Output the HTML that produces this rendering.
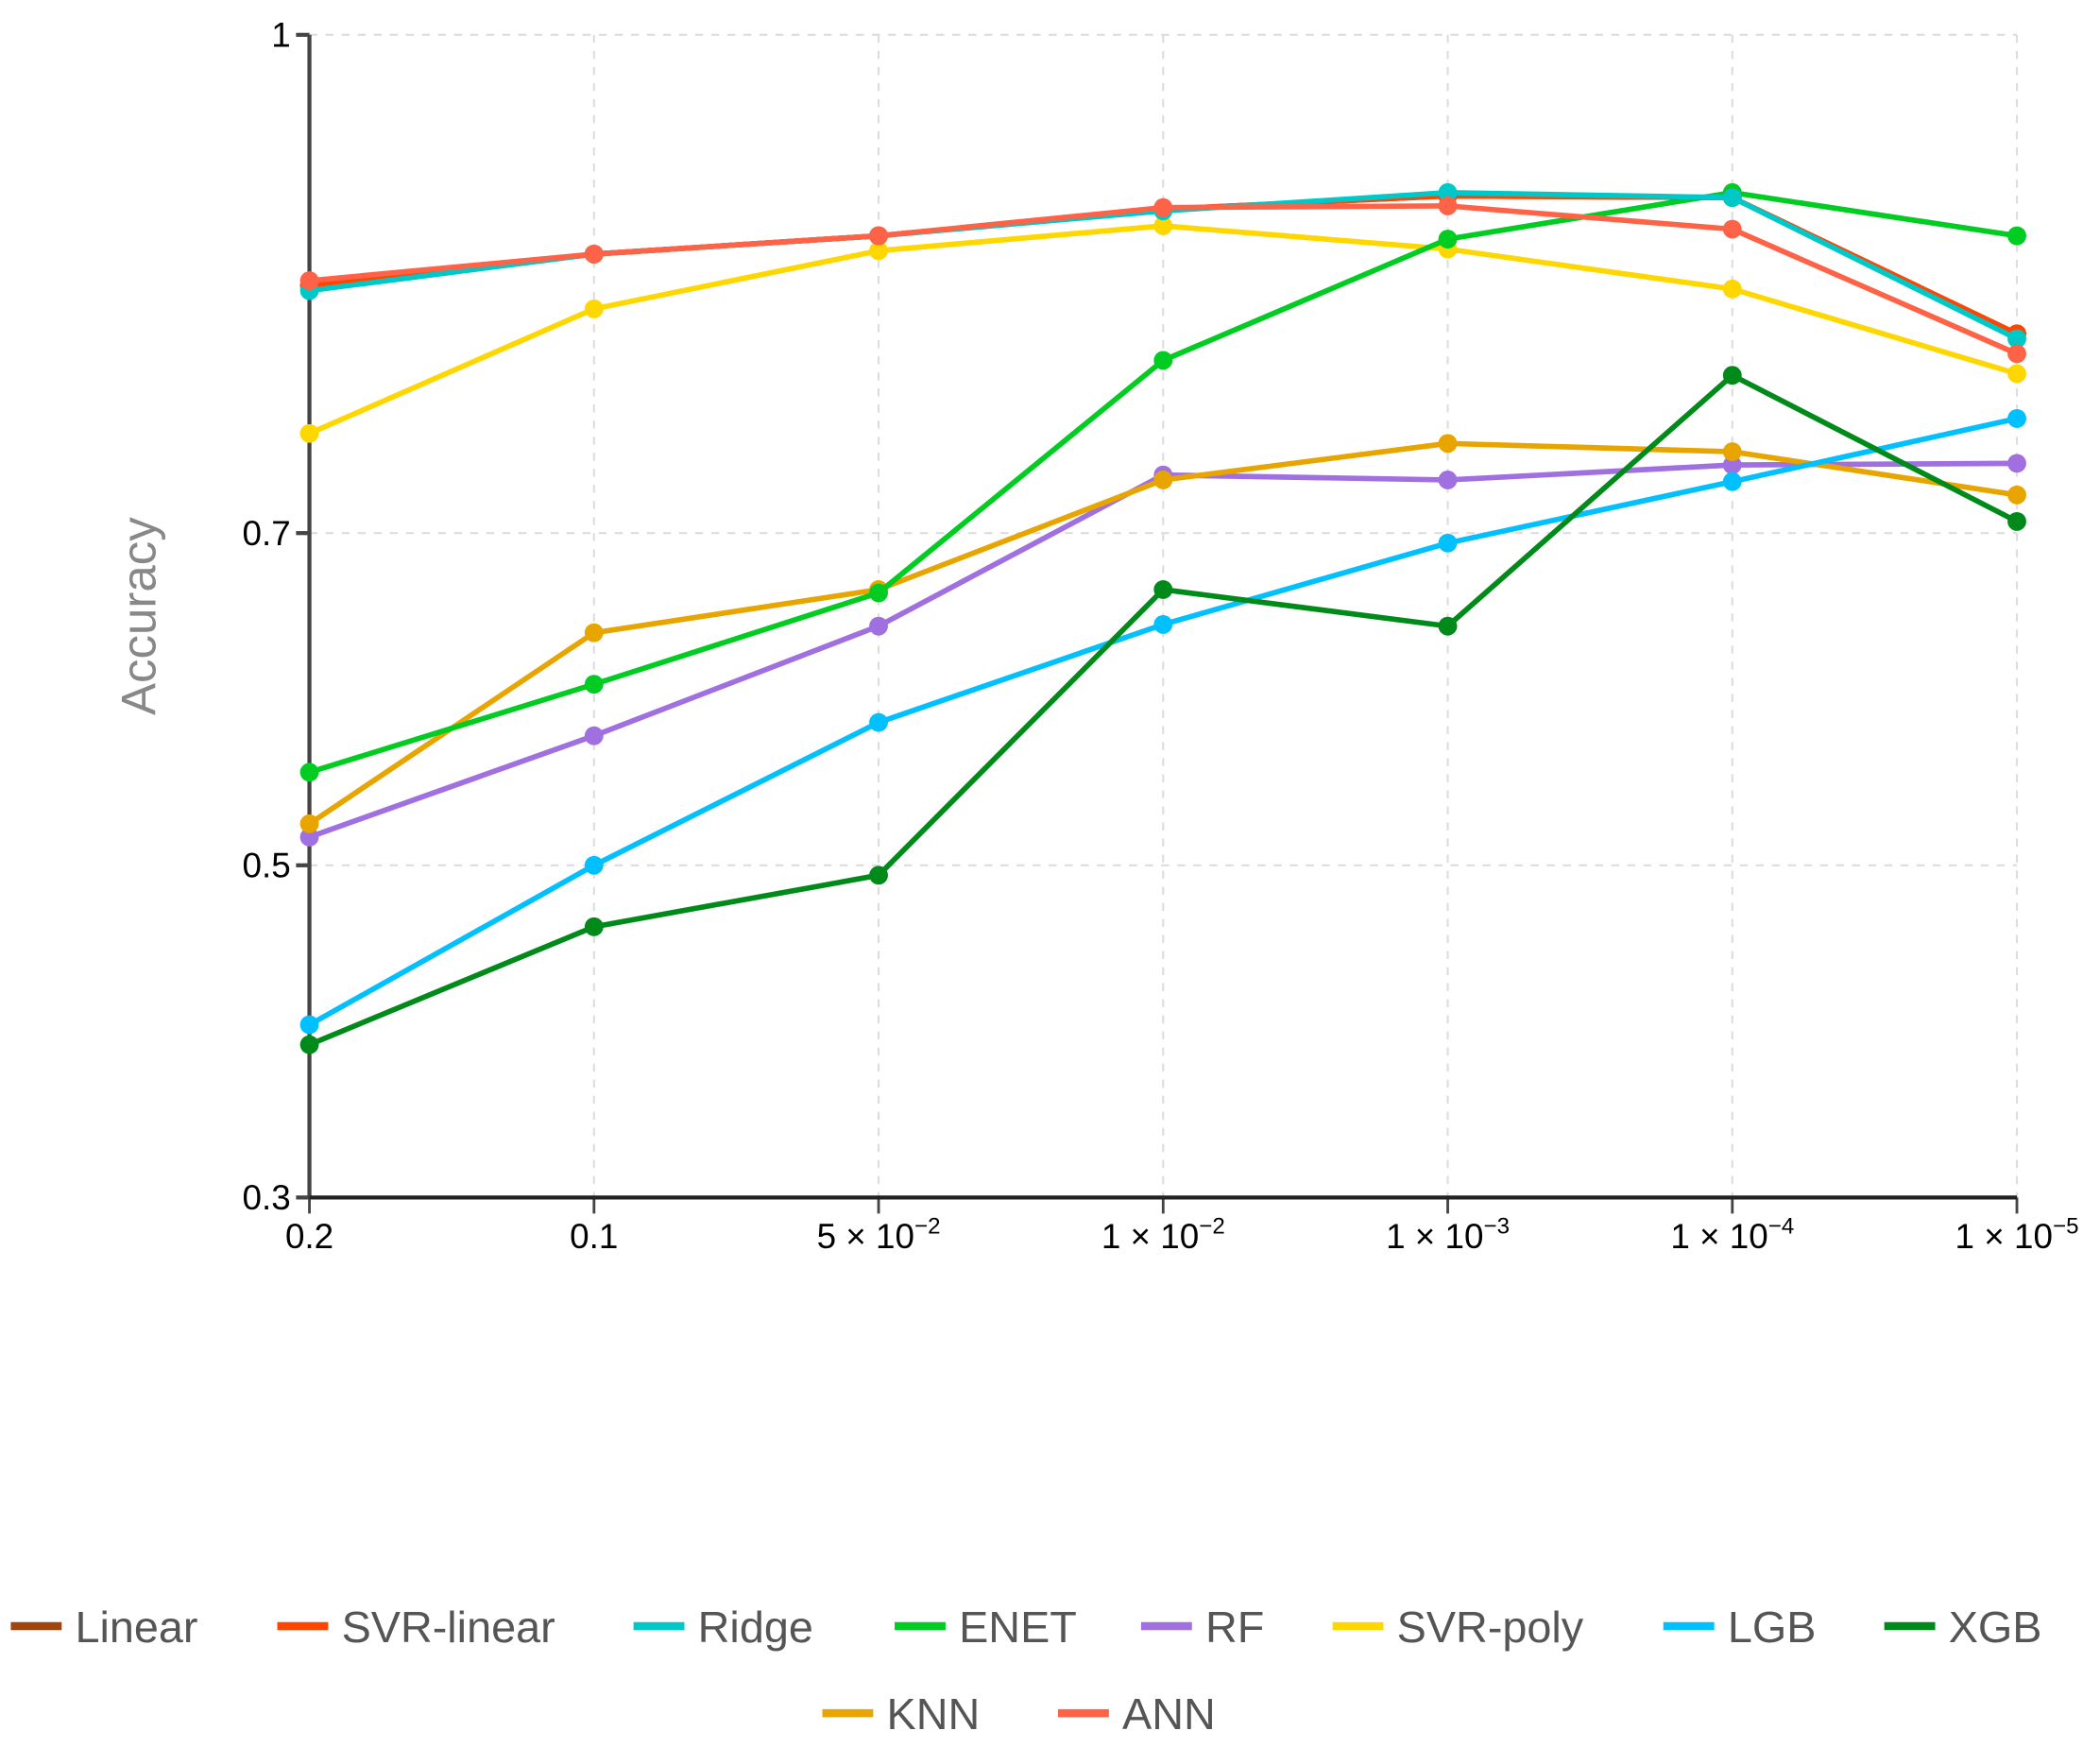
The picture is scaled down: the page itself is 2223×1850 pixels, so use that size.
<!DOCTYPE html>
<html><head><meta charset="utf-8"><style>html,body{margin:0;padding:0;background:#fff}svg{display:block}</style></head>
<body>
<svg id="chart" width="2223" height="1850" viewBox="0 0 1568 1305" xmlns="http://www.w3.org/2000/svg" font-family="'Liberation Sans', sans-serif">
<g id="grid"></g>
<g id="axes"></g>
<g id="series"></g>
<g id="legend"></g>
<text transform="translate(116,460) rotate(-90)" text-anchor="middle" font-size="36" fill="#888">Accuracy</text>
</svg>
<script>
const categories = ["0.2","0.1","5 × 10|−2","1 × 10|−2","1 × 10|−3","1 × 10|−4","1 × 10|−5"];
const yTicks = [0.3,0.5,0.7,1];
const names = ["Linear","SVR-linear","Ridge","ENET","RF","SVR-poly","LGB","XGB","KNN","ANN"];
const colors = ["#a0450f","#ff4500","#00c8c8","#00cc22","#a070e0","#ffd700","#00c0ff","#008a1a","#e8a500","#ff6347"];
const linear   = [0.849,0.868,0.879,0.895,0.903,0.902,0.820];
const svrLinear= [0.849,0.868,0.879,0.895,0.903,0.902,0.820];
const ridge    = [0.846,0.868,0.879,0.894,0.905,0.902,0.817];
const enet     = [0.556,0.609,0.664,0.804,0.877,0.905,0.879];
const rf       = [0.517,0.578,0.644,0.735,0.732,0.741,0.742];
const svrPoly  = [0.760,0.835,0.870,0.885,0.871,0.847,0.796];
const lgb      = [0.404,0.500,0.586,0.645,0.694,0.731,0.769];
const xgb      = [0.392,0.463,0.494,0.666,0.644,0.795,0.707];
const knn      = [0.525,0.640,0.666,0.732,0.754,0.749,0.723];
const ann      = [0.852,0.868,0.879,0.896,0.897,0.883,0.808];
const seriesData = [linear,svrLinear,ridge,enet,rf,svrPoly,lgb,xgb,knn,ann];
const drawOrder = [4,8,6,7,5,3,0,1,2,9];

const NS="http://www.w3.org/2000/svg";
const X0=231,X1=1506,Y0=894,Y1=26;
const xs=i=>X0+(X1-X0)*i/(categories.length-1);
const ys=v=>Y0-(v-0.3)/(1-0.3)*(Y0-Y1);
function mk(tag,attrs,parent){const e=document.createElementNS(NS,tag);for(const k in attrs)e.setAttribute(k,attrs[k]);parent.appendChild(e);return e;}
const grid=document.getElementById('grid'),axes=document.getElementById('axes'),ser=document.getElementById('series'),leg=document.getElementById('legend');

yTicks.forEach(t=>{
  const y=ys(t);
  if(t>0.3){const g=mk('line',{x1:X0,x2:X1,y1:y,y2:y,stroke:'#ddd','stroke-width':1.5,'stroke-dasharray':'6,6'},grid);
  
  }
  const tk=mk('line',{x1:X0-10,x2:X0,y1:y,y2:y,stroke:'#444','stroke-width':3},axes);
  
  
  const lb=mk('text',{x:X0-14,y:y+9,'text-anchor':'end','font-size':26,fill:'#000'},axes);
  
  
  lb.textContent=String(t);
});
categories.forEach((c,i)=>{
  const x=xs(i);
  if(i>0){const g=mk('line',{x1:x,x2:x,y1:Y1,y2:Y0,stroke:'#ddd','stroke-width':1.5,'stroke-dasharray':'6,6'},grid);
  
  }
  const tk=mk('line',{x1:x,x2:x,y1:Y0,y2:Y0+12,stroke:'#444','stroke-width':2},axes);
  
  
  const lb=mk('text',{x:x,y:Y0+38,'text-anchor':'middle','font-size':26,fill:'#000'},axes);
  
  
  const parts=c.split('|');
  lb.textContent=parts[0];
  if(parts[1]){const s=mk('tspan',{'font-size':17,dy:-11},lb);s.textContent=parts[1];}
});
const ya=mk('line',{x1:X0,x2:X0,y1:Y1,y2:Y0,stroke:'#444','stroke-width':3},axes);


const xa=mk('line',{x1:X0,x2:X1,y1:Y0,y2:Y0,stroke:'#222','stroke-width':3},axes);



drawOrder.forEach(si=>{
  const d=seriesData[si];
  const g=mk('g',{},ser);
  
  
  const pl=mk('polyline',{points:d.map((v,i)=>xs(i)+','+ys(v)).join(' '),fill:'none',stroke:colors[si],'stroke-width':4,'stroke-linejoin':'round'},g);
  
  
  d.forEach((v,i)=>{
    const c=mk('circle',{cx:xs(i),cy:ys(v),r:7,fill:colors[si]},g);
    
    
  });
});

const legPos=[[8,1214],[207,1214],[473,1214],[668,1214],[852,1214],[995,1214],[1242,1214],[1407,1214],[614,1279],[790,1279]];
names.forEach((n,i)=>{
  const [x,y]=legPos[i];
  const g=mk('g',{},leg);
  
  
  mk('rect',{x:x,y:y-3,width:38,height:6,fill:colors[i]},g);
  const t=mk('text',{x:x+48,y:y+12,'font-size':33,fill:'#555'},g);
  t.textContent=n;
});
</script>
</body></html>
